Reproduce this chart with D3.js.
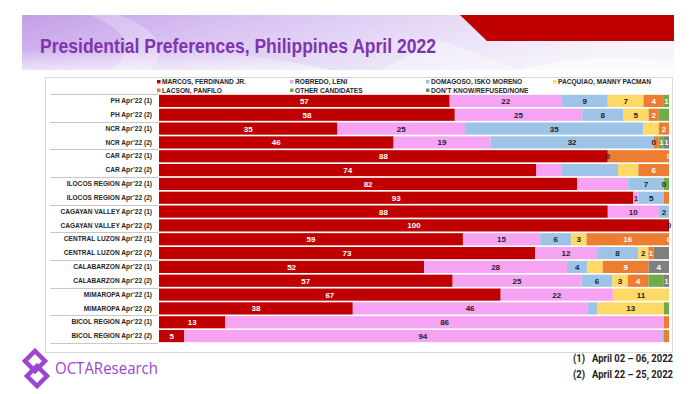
<!DOCTYPE html>
<html>
<head>
<meta charset="utf-8">
<script src="https://cdnjs.cloudflare.com/ajax/libs/d3/7.8.5/d3.min.js"></script>
<style>
  body { margin: 0; background: #fff; }
  svg { display: block; font-family: "Liberation Sans", Arial, sans-serif; }
</style>
</head>
<body>
<div id="chart"></div>
<script>
// rows and series (percent)
var rows = ["PH Apr’22 (1)", "PH Apr’22 (2)", "NCR Apr’22 (1)", "NCR Apr’22 (2)",
  "CAR Apr’22 (1)", "CAR Apr’22 (2)", "ILOCOS REGION Apr’22 (1)", "ILOCOS REGION Apr’22 (2)",
  "CAGAYAN VALLEY Apr’22 (1)", "CAGAYAN VALLEY Apr’22 (2)", "CENTRAL LUZON Apr’22 (1)",
  "CENTRAL LUZON Apr’22 (2)", "CALABARZON Apr’22 (1)", "CALABARZON Apr’22 (2)",
  "MIMAROPA Apr’22 (1)", "MIMAROPA Apr’22 (2)", "BICOL REGION Apr’22 (1)", "BICOL REGION Apr’22 (2)"];

var marcos   = [57, 58, 35, 46, 88, 74, 82, 93, 88, 100, 59, 73, 52, 57, 67, 38, 13, 5];
var robredo  = [22, 25, 25, 19, 0, 5, 10, 1, 10, 0, 15, 12, 28, 25, 22, 46, 86, 94];
var domagoso = [9, 8, 35, 32, 0, 11, 7, 5, 2, 0, 6, 8, 4, 6, 0, 2, 0, 0.5];
var pacquiao = [7, 5, 3, 0, 0, 4, 0, 0, 0, 0, 3, 2, 3, 3, 11, 13, 0, 0];
var lacson   = [4, 2, 2, 1, 12, 6, 0, 1, 0, 0, 16, 1, 9, 4, 0, 0, 1, 1];
var others   = [1, 2, 0, 1, 0, 0, 1, 0, 0, 0, 0, 0, 0, 3, 0, 1, 0, 0];
var dontKnow = [0, 0, 0, 1, 0, 0, 0, 0, 0, 0, 0, 3, 4, 1, 0, 0, 0, 0];

var seriesNames = ["MARCOS, FERDINAND JR.", "ROBREDO, LENI", "DOMAGOSO, ISKO MORENO",
  "PACQUIAO, MANNY PACMAN", "LACSON, PANFILO", "OTHER CANDIDATES", "DON’T KNOW/REFUSED/NONE"];
var keys = ["marcos", "robredo", "domagoso", "pacquiao", "lacson", "others", "dontKnow"];
var colors = ["#c00000", "#f7a3f3", "#9dc3e6", "#ffd966", "#ed7d31", "#70ad47", "#7f7f7f"];
var labelColors = ["#fff", "#222", "#222", "#222", "#fff", "#fff", "#fff"];

// labels left off on the slide, and zero labels that were kept
var hiddenLabels = [[1, "others"], [2, "pacquiao"], [3, "lacson"], [4, "lacson"], [5, "robredo"],
  [5, "domagoso"], [5, "pacquiao"], [6, "robredo"], [6, "others"], [7, "lacson"], [11, "dontKnow"],
  [12, "pacquiao"], [13, "others"], [15, "domagoso"], [15, "others"], [16, "lacson"],
  [17, "domagoso"], [17, "lacson"]];
var zeroLabels = [[3, "pacquiao"], [4, "robredo"], [4, "dontKnow"], [6, "pacquiao"],
  [9, "robredo"], [10, "others"]];

var notes = ["(1)   April 02 – 06, 2022", "(2)   April 22 – 25, 2022"];

var table = rows.map(function(r, i) {
  return {row: r, marcos: marcos[i], robredo: robredo[i], domagoso: domagoso[i],
    pacquiao: pacquiao[i], lacson: lacson[i], others: others[i], dontKnow: dontKnow[i]};
});

function inList(list, i, k) {
  return list.some(function(p) { return p[0] === i && p[1] === k; });
}

var W = 700, H = 394;
var svg = d3.select("#chart").append("svg").attr("width", W).attr("height", H);
var defs = svg.append("defs");

// banner
var g1 = defs.append("linearGradient").attr("id", "ban").attr("x1", 0).attr("x2", 1).attr("y1", 0).attr("y2", 0.3);
g1.append("stop").attr("offset", "0").attr("stop-color", "#c29fe6");
g1.append("stop").attr("offset", "0.35").attr("stop-color", "#d9c3f3");
g1.append("stop").attr("offset", "0.7").attr("stop-color", "#e9e0f7");
g1.append("stop").attr("offset", "1").attr("stop-color", "#f6f3fb");
var g2 = defs.append("linearGradient").attr("id", "fade").attr("x1", 0).attr("x2", 0).attr("y1", 0).attr("y2", 1);
g2.append("stop").attr("offset", "0").attr("stop-color", "#fff").attr("stop-opacity", 0);
g2.append("stop").attr("offset", "1").attr("stop-color", "#fff").attr("stop-opacity", 0.55);

svg.append("rect").attr("x", 22).attr("y", 15).attr("width", 652).attr("height", 55).attr("fill", "url(#ban)");
svg.append("path").attr("d", "M22,52 Q200,40 330,70 L22,70 Z").attr("fill", "url(#fade)");
svg.append("path").attr("d", "M120,15 Q180,40 150,70 L110,70 Q150,40 90,15 Z").attr("fill", "#fff").attr("opacity", 0.25);
svg.append("path").attr("d", "M380,70 L440,40 L520,70 Z").attr("fill", "#fff").attr("opacity", 0.35);
svg.append("path").attr("d", "M520,70 Q600,50 674,62 L674,70 Z").attr("fill", "#fff").attr("opacity", 0.6);
svg.append("path").attr("d", "M460,15 L674,15 L674,41 L487,41 Z").attr("fill", "#c00000");

svg.append("text").attr("x", 40).attr("y", 53)
  .attr("font-size", 20.5).attr("font-weight", "bold").attr("fill", "#8234ad")
  .attr("textLength", 396).attr("lengthAdjust", "spacingAndGlyphs")
  .text("Presidential Preferences, Philippines April 2022");

// chart box
svg.append("rect").attr("x", 45.5).attr("y", 77.5).attr("width", 627).attr("height", 275)
  .attr("fill", "#fff").attr("stroke", "#d9d9d9");

// legend
var legend = svg.append("g").attr("font-size", 6.6).attr("font-weight", "bold").attr("fill", "#262626");
var legX = [157, 290, 426, 553];
seriesNames.forEach(function(n, i) {
  var lx = legX[i % 4], ly = i < 4 ? 82 : 90.5;
  legend.append("rect").attr("x", lx).attr("y", ly - 2).attr("width", 3.5).attr("height", 3.5).attr("fill", colors[i]);
  legend.append("text").attr("x", lx + 5).attr("y", ly + 2.3).text(n);
});

// scales
var x = d3.scaleLinear().domain([0, 1]).range([159, 669]);
var y = d3.scaleBand().domain(rows).range([94, 343]).paddingInner(0.12).paddingOuter(0.06);
var step = y.step();

var stack = d3.stack().keys(keys).offset(d3.stackOffsetExpand);
var series = stack(table);

// group separators on the category side
svg.append("g").selectAll("line")
  .data(d3.range(0, rows.length + 1, 2))
  .join("line")
  .attr("x1", 50).attr("x2", 158)
  .attr("y1", function(i) { return Math.round(94 + i * step) + 0.5; })
  .attr("y2", function(i) { return Math.round(94 + i * step) + 0.5; })
  .attr("stroke", "#c8c8c8").attr("stroke-width", 1);

var yAxis = svg.append("g").attr("transform", "translate(158,0)")
  .call(d3.axisLeft(y).tickSize(0).tickPadding(6));
yAxis.select(".domain").remove();
yAxis.selectAll("text").attr("font-size", 6.6).attr("font-weight", "bold").attr("fill", "#262626")
  .attr("font-family", "Liberation Sans, Arial, sans-serif");

// bars
var layer = svg.append("g").selectAll("g.layer")
  .data(series)
  .join("g")
  .attr("class", "layer")
  .attr("fill", function(d, i) { return colors[i]; });

layer.selectAll("rect")
  .data(function(d) { return d; })
  .join("rect")
  .attr("x", function(d) { return x(d[0]); })
  .attr("y", function(d) { return y(d.data.row); })
  .attr("width", function(d) { return x(d[1]) - x(d[0]); })
  .attr("height", y.bandwidth());

// value labels
var lab = svg.append("g").attr("font-size", 8).attr("font-weight", "bold").attr("text-anchor", "middle");
series.forEach(function(s, si) {
  s.forEach(function(d, ri) {
    var v = d.data[s.key];
    var show = v > 0 ? !inList(hiddenLabels, ri, s.key) : inList(zeroLabels, ri, s.key);
    if (!show) return;
    var w = x(d[1]) - x(d[0]);
    lab.append("text")
      .attr("x", (x(d[0]) + x(d[1])) / 2)
      .attr("y", y(d.data.row) + y.bandwidth() / 2 + 3)
      .attr("font-size", w > 0 && w < 7 ? 7 : 8)
      .attr("fill", labelColors[si])
      .text(Math.round(v));
  });
});

// logo
var logo = svg.append("g").attr("fill", "none").attr("stroke", "#9b45d0").attr("stroke-width", 4.5)
  .attr("stroke-linejoin", "miter");
logo.append("path").attr("d", "M35,351 L45,361 L35,371 L25,361 Z");
logo.append("path").attr("d", "M37,366 L47,376 L37,386 L27,376 Z");
svg.append("text").attr("x", 55).attr("y", 374).attr("font-size", 16.5)
  .attr("font-family", "Open Sans, sans-serif").attr("fill", "#9b45d0")
  .attr("textLength", 103).attr("lengthAdjust", "spacingAndGlyphs").text("OCTAResearch");

// survey dates
svg.append("g").attr("font-size", 10.5).attr("font-weight", "bold").attr("fill", "#222")
  .attr("font-family", "Liberation Sans Narrow, Roboto, sans-serif")
  .selectAll("text").data(notes).join("text")
  .attr("x", 573).attr("y", function(d, i) { return 362 + i * 16; })
  .attr("textLength", 100).attr("lengthAdjust", "spacingAndGlyphs")
  .style("white-space", "pre")
  .text(function(d) { return d; });
</script>
</body>
</html>
